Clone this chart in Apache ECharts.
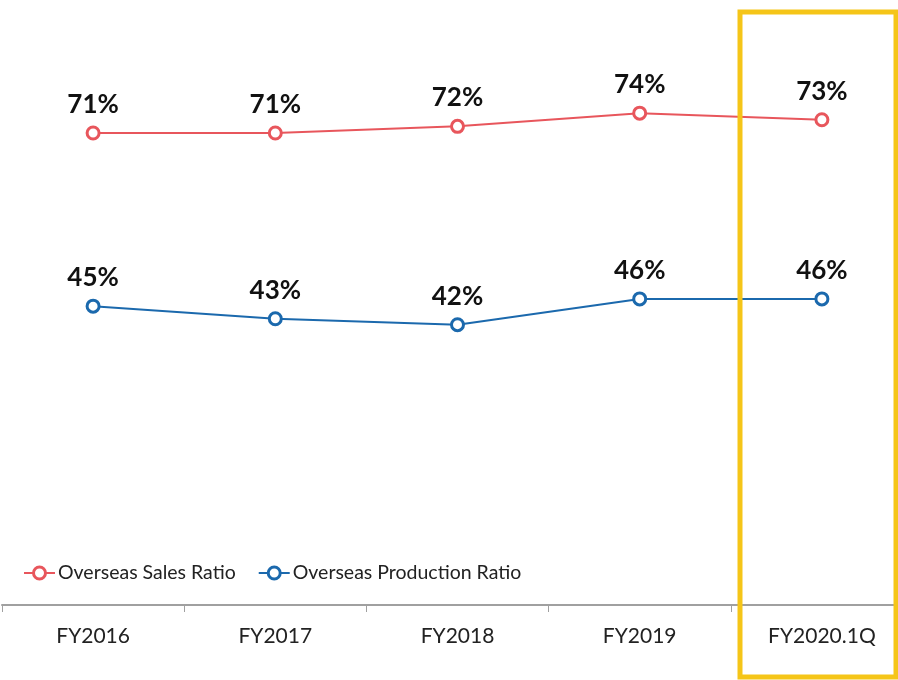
<!DOCTYPE html>
<html>
<head>
<meta charset="utf-8">
<script src="https://cdn.jsdelivr.net/npm/echarts@6/dist/echarts.min.js"></script>
<style>
  html, body { margin: 0; padding: 0; background: #fff; overflow: hidden; }
  /* 图表区域比窗口略宽，最后一个类目被右侧裁掉一部分 */
  #chart { width: 920px; height: 680px; }
</style>
</head>
<body>
<div id="chart"></div>
<script>
// 年度
const categories = ['FY2016', 'FY2017', 'FY2018', 'FY2019', 'FY2020.1Q'];
// 海外销售比率 / 海外生产比率 (%)
const salesRatio = [71.4, 71.4, 72.4, 74.4, 73.4];
const productionRatio = [45.2, 43.3, 42.4, 46.3, 46.3];
const seriesNames = ['Overseas Sales Ratio', 'Overseas Production Ratio'];

const chart = echarts.init(document.getElementById('chart'));

function lineSeries(name, data, color) {
    return {
        name: name,
        type: 'line',
        data: data,
        symbol: 'circle',
        symbolSize: 12,
        showAllSymbol: true,
        lineStyle: { color: color, width: 2 },
        itemStyle: { color: '#fff', borderColor: color, borderWidth: 3 },
        label: {
            show: true,
            position: 'top',
            distance: 8,
            color: '#111',
            fontFamily: 'Lato',
            fontWeight: 'bold',
            fontSize: 26,
            formatter: (p) => Math.round(p.value) + '%'
        },
        emphasis: { disabled: true }
    };
}

chart.setOption({
    animation: false,
    textStyle: { fontFamily: 'Lato' },
    grid: { left: 2, right: 7, top: 10, bottom: 75 },
    legend: {
        left: 18,
        top: 558,
        itemWidth: 31,
        itemHeight: 15,
        itemGap: 22,
        itemStyle: { borderWidth: 3 },
        textStyle: { color: '#222', fontSize: 19.5, fontFamily: 'Lato', padding: [0, 0, 0, -2] },
        data: seriesNames
    },
    xAxis: {
        type: 'category',
        data: categories,
        boundaryGap: true,
        axisLine: { lineStyle: { color: '#a0a0a0', width: 2 } },
        axisTick: { show: true, length: 7, lineStyle: { color: '#a0a0a0' } },
        axisLabel: { color: '#222', fontSize: 21, margin: 21 }
    },
    yAxis: {
        type: 'value',
        min: 0,
        max: 90,
        show: false
    },
    series: [
        lineSeries(seriesNames[0], salesRatio, '#e8565c'),
        lineSeries(seriesNames[1], productionRatio, '#1b69ad')
    ],
    graphic: [{
        type: 'rect',
        shape: { x: 740, y: 12, width: 156, height: 665 },
        style: { fill: 'none', stroke: '#f5c518', lineWidth: 5 },
        z: 100
    }]
});
</script>
</body>
</html>
